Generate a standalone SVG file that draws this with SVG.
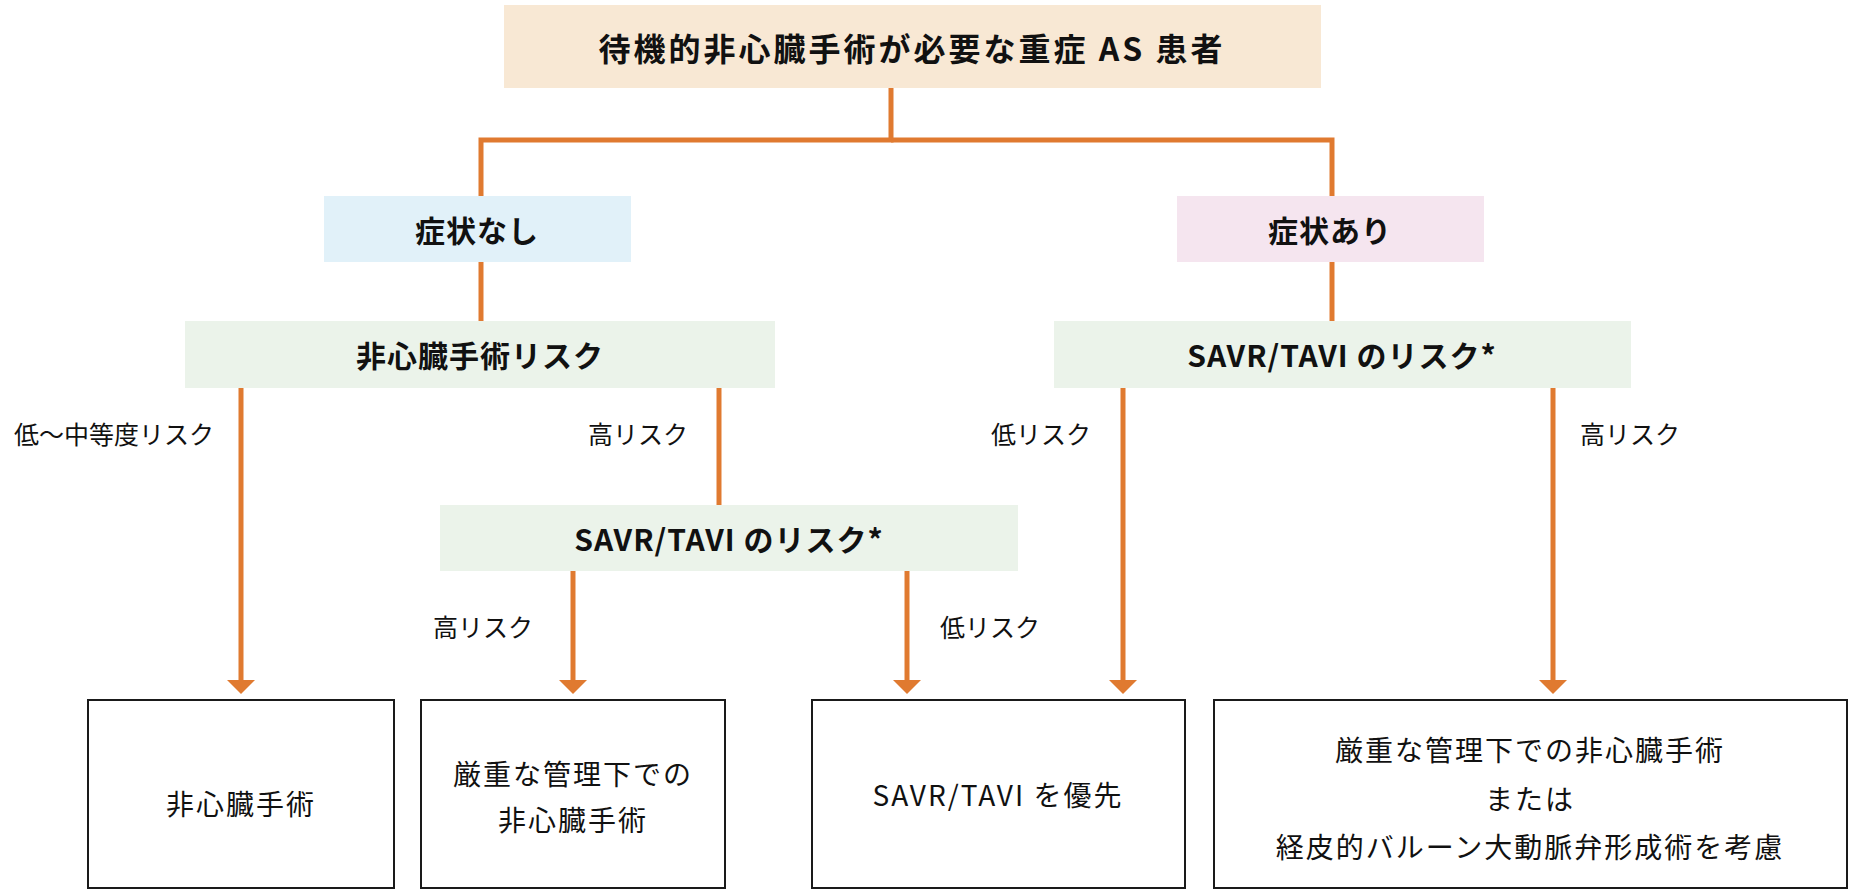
<svg xmlns="http://www.w3.org/2000/svg" width="1850" height="892" viewBox="0 0 1850 892">
<defs>
<style>
text{font-family:"Noto Sans CJK JP","Noto Sans",sans-serif;fill:#111;text-anchor:middle;dominant-baseline:central}
.b{font-weight:bold;font-size:30px;letter-spacing:1px}
.t{font-size:32px;letter-spacing:3px}
.l{font-size:25px}
.o{font-size:28px;letter-spacing:2px}
.c{stroke:#E07A30;stroke-width:5;fill:none}
.box{fill:#fff;stroke:#1a1a1a;stroke-width:2}
</style>
<marker id="ah" viewBox="0 0 10 10" refX="5" refY="10" markerWidth="5.6" markerHeight="3" markerUnits="strokeWidth" orient="auto-start-reverse" preserveAspectRatio="none"><path d="M0,0 L10,0 L5,10 z" fill="#E07A30" transform="rotate(0)"/></marker>
</defs>
<g id="connectors">
<polyline class="c" points="891,88 891,140 481,140 481,196"/>
<polyline class="c" points="891,140 1332,140 1332,196"/>
<line class="c" x1="481" y1="262" x2="481" y2="321"/>
<line class="c" x1="1332" y1="262" x2="1332" y2="321"/>
<line class="c" x1="719" y1="388" x2="719" y2="505"/>
<path class="c" d="M241,388 V680"/><path d="M227,680 h28 l-14,14 z" fill="#E07A30"/>
<path class="c" d="M573,571 V680"/><path d="M559,680 h28 l-14,14 z" fill="#E07A30"/>
<path class="c" d="M907,571 V680"/><path d="M893,680 h28 l-14,14 z" fill="#E07A30"/>
<path class="c" d="M1123,388 V680"/><path d="M1109,680 h28 l-14,14 z" fill="#E07A30"/>
<path class="c" d="M1553,388 V680"/><path d="M1539,680 h28 l-14,14 z" fill="#E07A30"/>
<text class="l" x="114" y="433">低〜中等度リスク</text>
<text class="l" x="638" y="433">高リスク</text>
<text class="l" x="1041" y="433">低リスク</text>
<text class="l" x="1630" y="433">高リスク</text>
<text class="l" x="483" y="626">高リスク</text>
<text class="l" x="990" y="626">低リスク</text>
</g>
<g id="n-top"><rect x="504" y="5" width="817" height="83" fill="#F8E8D4"/><text class="b t" x="912" y="47" font-weight="bold">待機的非心臓手術が必要な重症 AS 患者</text></g>
<g id="n-none"><rect x="324" y="196" width="307" height="66" fill="#E1F1F9"/><text class="b" x="477" y="229">症状なし</text></g>
<g id="n-sym"><rect x="1177" y="196" width="307" height="66" fill="#F5E5EF"/><text class="b" x="1330" y="229">症状あり</text></g>
<g id="n-ncrisk"><rect x="185" y="321" width="590" height="67" fill="#EBF3EA"/><text class="b" x="480" y="354">非心臓手術リスク</text></g>
<g id="n-savr-r"><rect x="1054" y="321" width="577" height="67" fill="#EBF3EA"/><text class="b" x="1342" y="354">SAVR/TAVI のリスク*</text></g>
<g id="n-savr-m"><rect x="440" y="505" width="578" height="66" fill="#EBF3EA"/><text class="b" x="729" y="538">SAVR/TAVI のリスク*</text></g>
<g id="n-b1"><rect class="box" x="88" y="700" width="306" height="188"/><text class="o" x="241" y="803">非心臓手術</text></g>
<g id="n-b2"><rect class="box" x="421" y="700" width="304" height="188"/><text class="o" x="573" y="773">厳重な管理下での</text><text class="o" x="573" y="819">非心臓手術</text></g>
<g id="n-b3"><rect class="box" x="812" y="700" width="373" height="188"/><text class="o" x="998" y="794">SAVR/TAVI を優先</text></g>
<g id="n-b4"><rect class="box" x="1214" y="700" width="633" height="188"/><text class="o" x="1530" y="749">厳重な管理下での非心臓手術</text><text class="o" x="1530" y="798">または</text><text class="o" x="1530" y="846">経皮的バルーン大動脈弁形成術を考慮</text></g>
</svg>
